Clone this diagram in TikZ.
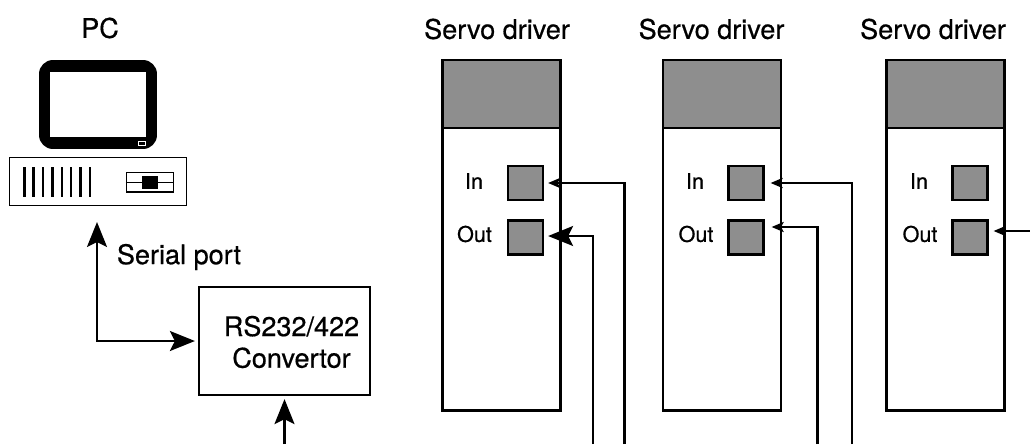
\documentclass[tikz,border=0pt]{standalone}
\usepackage{fontspec}
\setmainfont[RawFeature={embolden=0.6}]{TeX Gyre Heros}
\usetikzlibrary{arrows.meta}
\definecolor{panelgray}{HTML}{8E8E8E}
\tikzstyle{label} = [inner sep=0pt,font=\fontsize{15.4}{18}\selectfont,align=center]
\tikzstyle{smalllabel} = [inner sep=0pt,font=\fontsize{12.3}{15}\selectfont]
\tikzstyle{body} = [draw,line width=0.045cm,inner sep=0pt,minimum width=2.36cm,minimum height=7.0cm]
\tikzstyle{header} = [body,fill=panelgray,minimum height=1.36cm]
\tikzstyle{port} = [draw,line width=0.045cm,fill=panelgray,inner sep=0pt,minimum width=0.7cm,minimum height=0.68cm]
\tikzstyle{bigarrow} = [line width=0.045cm,-{Stealth[length=0.5cm,width=0.4cm,inset=0.1cm]}]
\tikzstyle{twoarrow} = [line width=0.045cm,{Stealth[length=0.5cm,width=0.4cm,inset=0.1cm]}-{Stealth[length=0.5cm,width=0.4cm,inset=0.1cm]}]
\tikzstyle{smallarrow} = [line width=0.045cm,-{Stealth[length=0.24cm,width=0.2cm,inset=0.05cm]}]
\begin{document}
\begin{tikzpicture}[x=0.02cm,y=-0.02cm]
	\useasboundingbox (0,0) rectangle (1030,444);
	% PC
	\node[label] (pclabel) at (100,28) {PC};
	\node[fill=black,inner sep=0pt,minimum width=2.36cm,minimum height=1.78cm,rounded corners=0.28cm] (monitor) at (98,104.5) {};
	\node[fill=white,inner sep=0pt,minimum width=1.92cm,minimum height=1.3cm] (screen) at (98,104.5) {};
	\node[draw=white,line width=0.02cm,inner sep=0pt,minimum width=0.14cm,minimum height=0.08cm] (lamp) at (141.5,143) {};
	\node[draw,line width=0.035cm,inner sep=0pt,minimum width=3.54cm,minimum height=0.96cm] (case) at (98,181.5) {};
	\draw[line width=0.055cm] (24.5,167) -- (24.5,197);
	\draw[line width=0.05cm] (33.5,167) -- (33.5,197);
	\draw[line width=0.05cm] (43,167) -- (43,197);
	\draw[line width=0.05cm] (52.5,167) -- (52.5,197);
	\draw[line width=0.05cm] (62,167) -- (62,197);
	\draw[line width=0.05cm] (71,167) -- (71,197);
	\draw[line width=0.05cm] (80.5,167) -- (80.5,197);
	\draw[line width=0.045cm] (90,167) -- (90,197);
	\node[draw,line width=0.03cm,inner sep=0pt,minimum width=0.94cm,minimum height=0.39cm] (drive) at (150,182) {};
	\draw[line width=0.02cm] (drive.west) -- (drive.east);
	\node[fill=black,inner sep=0pt,minimum width=0.32cm,minimum height=0.26cm] (slot) at (150,182) {};
	% convertor
	\node[draw,line width=0.045cm,inner sep=0pt,minimum width=3.42cm,minimum height=2.16cm] (conv) at (284.5,341) {};
	\node[label] (convlabel) at (291.5,342) {RS232/422\\Convertor};
	\node[label] (seriallabel) at (179,257) {Serial port};
	\coordinate (pcport) at (97,222);
	\coordinate (bus0) at (284.5,444);
	\draw[twoarrow,shorten >=0.06cm] (pcport) |- (conv.west);
	\draw[bigarrow,shorten >=0.06cm] (bus0) -- (conv.south);
	% servo drivers
	\node[label] (title1) at (497,29) {Servo driver};
	\node[label] (title2) at (711.5,29) {Servo driver};
	\node[label] (title3) at (933,29) {Servo driver};
	\node[body] (servo1) at (501.5,235.5) {};
	\node[body] (servo2) at (722,235.5) {};
	\node[body] (servo3) at (945.5,235.5) {};
	\node[header] (head1) at (501.5,94) {};
	\node[header] (head2) at (722,94) {};
	\node[header] (head3) at (945.5,94) {};
	\node[port] (in1) at (525.5,183) {};
	\node[port] (out1) at (525.5,237.5) {};
	\node[port] (in2) at (746,183) {};
	\node[port] (out2) at (746,237.5) {};
	\node[port] (in3) at (970,183) {};
	\node[port] (out3) at (970,237.5) {};
	\node[smalllabel] (inlabel1) at (474,181) {In};
	\node[smalllabel] (outlabel1) at (474.5,234) {Out};
	\node[smalllabel] (inlabel2) at (695,181) {In};
	\node[smalllabel] (outlabel2) at (696,234) {Out};
	\node[smalllabel] (inlabel3) at (919,181) {In};
	\node[smalllabel] (outlabel3) at (920,234) {Out};
	% cabling
	\coordinate (bus1) at (593,444);
	\coordinate (bus2) at (624.5,444);
	\coordinate (bus3) at (817.5,444);
	\coordinate (bus4) at (852,444);
	\coordinate (bus5) at (1030,231);
	\draw[smallarrow,shorten >=0.08cm] (bus2) |- (in1.east);
	\draw[bigarrow,shorten >=0.08cm] (bus1) |- ([yshift=0.03cm]out1.east);
	\draw[smallarrow,shorten >=0.12cm] (bus4) |- (in2.east);
	\draw[smallarrow,shorten >=0.14cm] (bus3) |- ([yshift=0.21cm]out2.east);
	\draw[smallarrow,shorten >=0.1cm] (bus5) -- (out3.east |- bus5);
\end{tikzpicture}
\end{document}
